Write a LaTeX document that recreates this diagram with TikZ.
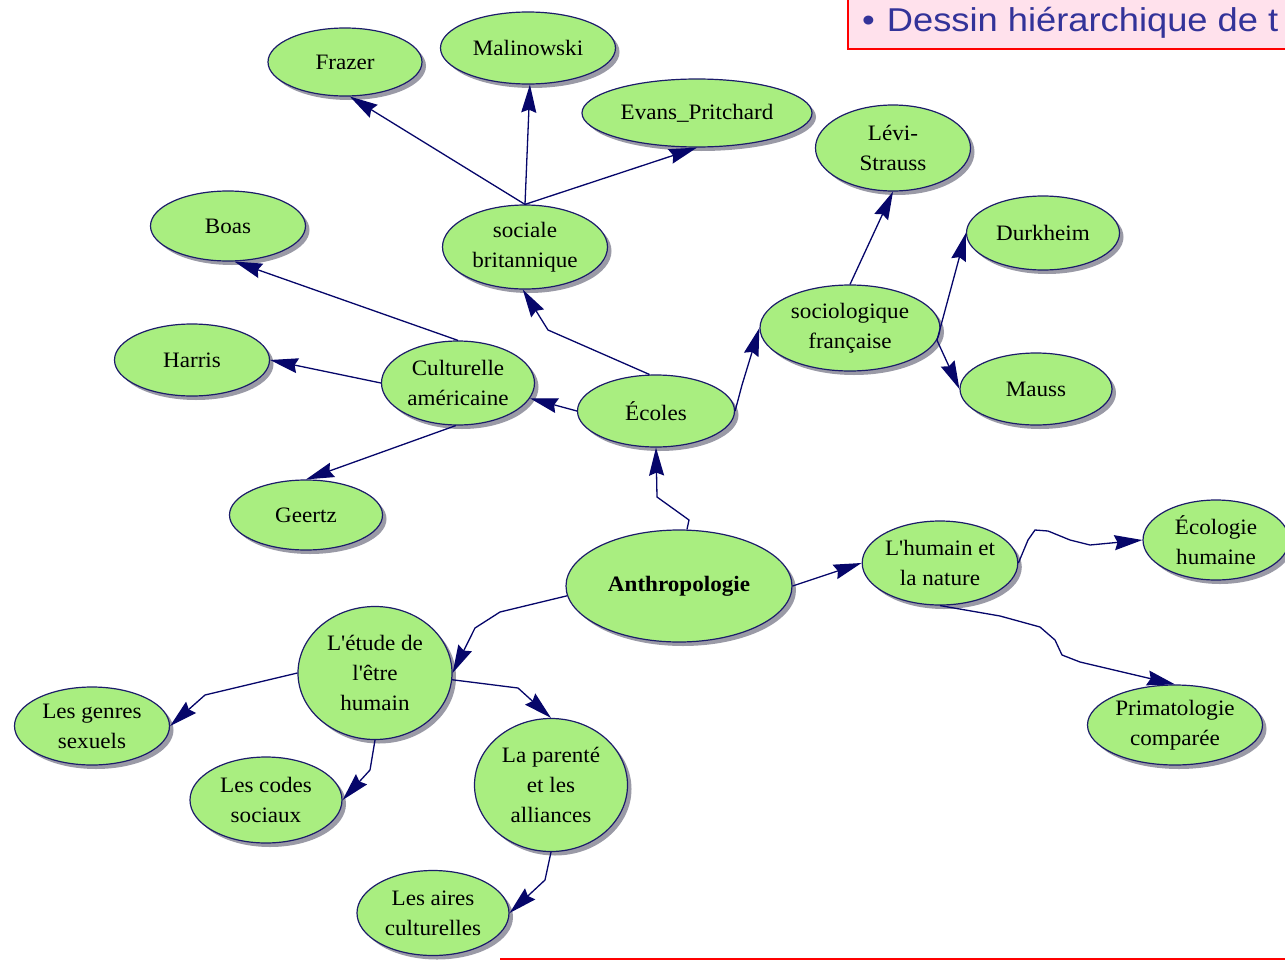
\documentclass[tikz,border=0pt]{standalone}
\usepackage{fontspec}
\setmainfont{Liberation Serif}
\newfontfamily\nf[FakeStretch=1.05]{Liberation Serif}
\newfontfamily\titlefont[FakeStretch=1.1]{Liberation Sans}
\usetikzlibrary{shapes.geometric,arrows.meta,shadows}
\definecolor{elfill}{HTML}{A9EE80}
\definecolor{eldraw}{HTML}{1C1C6A}
\definecolor{connavy}{HTML}{06066A}
\definecolor{titlebg}{HTML}{FFE1EC}
\definecolor{titletext}{HTML}{333399}
\definecolor{shadowgray}{HTML}{9A9AA6}
\tikzset{
  el/.style={ellipse, draw=eldraw, line width=1.2pt, fill=elfill, inner sep=0pt,
    align=center, font=\nf\fontsize{22}{30}\selectfont,
    drop shadow={shadow xshift=4pt, shadow yshift=-4pt, fill=shadowgray, opacity=1}},
  con/.style={draw=connavy, line width=1.3pt, -{Stealth[length=28pt,width=15pt,inset=3pt]}},
  titlebox/.style={draw=red, line width=2pt, fill=titlebg},
  redrule/.style={draw=red, line width=2.5pt}
}
\begin{document}
\begin{tikzpicture}[x=1pt,y=-1pt]
\useasboundingbox (0,0) rectangle (1285,961);
\fill[white] (0,0) rectangle (1285,961);
% title box
\begin{scope}
\clip (0,0) rectangle (1285,961);
\node[titlebox, anchor=north west, minimum width=460pt, minimum height=52pt, inner sep=0pt] (tbox) at (847,-4) {};
\node[anchor=base west, font=\titlefont\fontsize{33}{36}\selectfont, text=titletext, inner sep=0pt] (title) at (862,31) {\textbullet\hspace{12pt}Dessin hiérarchique de t};
\end{scope}
% nodes
\node[el, minimum width=154, minimum height=68] (frazer) at (345,62) {Frazer};
\node[el, minimum width=175, minimum height=72] (mal) at (528,48) {Malinowski};
\node[el, minimum width=230, minimum height=68] (evans) at (697,113) {Evans\_Pritchard};
\node[el, minimum width=155, minimum height=86] (levi) at (893,148) {Lévi-\\Strauss};
\node[el, minimum width=155, minimum height=70] (boas) at (228,226) {Boas};
\node[el, minimum width=165, minimum height=84] (sb) at (525,247) {sociale\\britannique};
\node[el, minimum width=153, minimum height=74] (durk) at (1043,233) {Durkheim};
\node[el, minimum width=180, minimum height=86] (soc) at (850,328) {sociologique\\française};
\node[el, minimum width=155, minimum height=72] (harris) at (192,360) {Harris};
\node[el, minimum width=153, minimum height=84] (ca) at (458,383) {Culturelle\\américaine};
\node[el, minimum width=157, minimum height=72] (ec) at (656,411) {Écoles};
\node[el, minimum width=152, minimum height=72] (mauss) at (1036,389) {Mauss};
\node[el, minimum width=153, minimum height=70] (geertz) at (306,515) {Geertz};
\node[el, minimum width=226, minimum height=112, font=\nf\bfseries\fontsize{22}{30}\selectfont] (anth) at (679,586) {Anthropologie};
\node[el, minimum width=150, minimum height=84] (hum) at (940,563) {L'humain et\\la nature};
\node[el, minimum width=146, minimum height=80] (ecol) at (1216,540) {Écologie\\humaine};
\node[el, minimum width=154, minimum height=133] (lett) at (375,673) {L'étude de\\l'être\\humain};
\node[el, minimum width=155, minimum height=78] (gen) at (92,726) {Les genres\\sexuels};
\node[el, minimum width=175, minimum height=80] (prim) at (1175,725) {Primatologie\\comparée};
\node[el, minimum width=152, minimum height=86] (codes) at (266,800) {Les codes\\sociaux};
\node[el, minimum width=153, minimum height=133] (par) at (551,785) {La parenté\\et les\\alliances};
\node[el, minimum width=152, minimum height=85] (aires) at (433,913) {Les aires\\culturelles};
% connectors
\draw[con] (sb.north) -- (frazer.-82);
\draw[con] (sb.north) -- (mal.-87);
\draw[con] (sb.north) -- (evans.south);
\draw[con] (ec.100) -- (548,330) -- (sb.-93);
\draw[con] (ec.west) -- (ca.-12);
\draw[con] (ca.north) -- (boas.-80);
\draw[con] (ca.west) -- (harris.east);
\draw[con] (ca.-93) -- (geertz.north);
\draw[con] (ec.east) -- (742,385) -- (soc.west);
\draw[con] (soc.north) -- (levi.south);
\draw[con] (soc.-8) -- (durk.west);
\draw[con] (soc.-8) -- (mauss.west);
\draw[con] (anth.82) -- (689,520) -- (657,497) -- (ec.south);
\draw[con] (anth.east) -- (hum.west);
\draw[con] (hum.east) -- (1028,540) -- (1035,530) -- (1048,531) -- (1070,540) -- (1090,545) -- (ecol.west);
\draw[con] (hum.south) -- (1000,616) -- (1040,627) -- (1055,640) -- (1062,655) -- (1080,662) -- (prim.north);
\draw[con] (anth.185) -- (500,612) -- (475,628) -- (lett.east);
\draw[con] (lett.west) -- (205,695) -- (gen.east);
\draw[con] (lett.south) -- (370,770) -- (codes.east);
\draw[con] (lett.-5) -- (518,688) -- (par.north);
\draw[con] (par.south) -- (545,880) -- (aires.east);
% bottom rule
\coordinate (ruleA) at (500,959);
\coordinate (ruleB) at (1285,959);
\draw[redrule] (ruleA) -- (ruleB);
\end{tikzpicture}
\end{document}
